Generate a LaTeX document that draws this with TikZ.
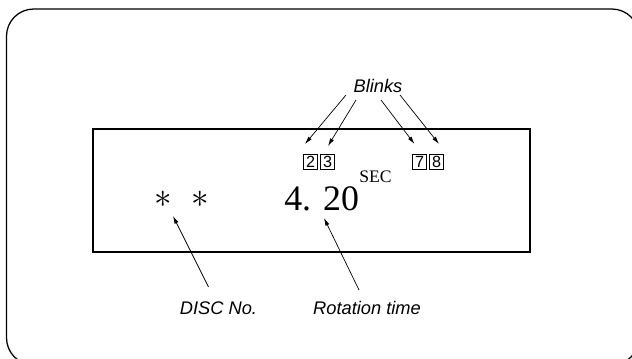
\documentclass[tikz,border=0pt]{standalone}
\usepackage{fontspec}
\setmainfont{Liberation Serif}
\setsansfont{Liberation Sans}
\usetikzlibrary{arrows.meta}

\begin{document}
\begin{tikzpicture}[x=0.025cm,y=-0.025cm,
    notetext/.style={font=\sffamily\itshape\fontsize{13}{15}\selectfont},
    digitbox/.style={draw,line width=0.5pt,inner sep=0pt,minimum width=10.3pt,minimum height=10.6pt,font=\sffamily\fontsize{11.5}{11.5}\selectfont},
    pointer/.style={-{Latex[length=5.5pt,width=3pt]},line width=0.5pt}]
            \useasboundingbox (0,0) rectangle (632,359);
            \begin{scope}
                \clip (0,0) rectangle (632,359);
                \draw[line width=0.9pt,rounded corners=0.68cm] (6.5,9) rectangle (639,365);
            \end{scope}

            \draw[line width=1pt] (93,129) rectangle (530,252);

            \node[digitbox] (D2) at (310.5,162) {2};
            \node[digitbox] (D3) at (327.5,162) {3};
            \node[digitbox] (D7) at (419.5,162) {7};
            \node[digitbox] (D8) at (436.5,162) {8};

            \node[font=\fontsize{26}{26}\selectfont] (ast1) at (163,199) {$\ast$};
            \node[font=\fontsize{26}{26}\selectfont] (ast2) at (200,199) {$\ast$};
            \node[font=\fontsize{25.5}{25.5}\selectfont,anchor=base west,inner sep=0pt] (time) at (284,211) {4. 20};
            \node[font=\fontsize{12.5}{12.5}\selectfont,anchor=base west,inner sep=0pt] (sec) at (359,183) {SEC};

            \node[notetext] (blinks) at (378,86) {Blinks};
            \node[notetext] (disc) at (218.5,308) {DISC No.};
            \node[notetext] (rot) at (367,308) {Rotation time};

            \draw[pointer] ([shift={(-32,9)}]blinks.center) -- ([shift={(-5.5,-18)}]D2.center);
            \draw[pointer] ([shift={(-22,14)}]blinks.center) -- ([shift={(0.5,-16)}]D3.center);
            \draw[pointer] ([shift={(3,14)}]blinks.center) -- ([shift={(-5,-18)}]D7.center);
            \draw[pointer] ([shift={(22,9)}]blinks.center) -- ([shift={(2.5,-18)}]D8.center);

            \draw[pointer] ([shift={(-10,-21)}]disc.center) -- ([shift={(10,17)}]ast1.center);
            \draw[pointer] ([shift={(-8,-18)}]rot.center) -- ([shift={(40,7)}]time.base west);
        \end{tikzpicture}
\end{document}
